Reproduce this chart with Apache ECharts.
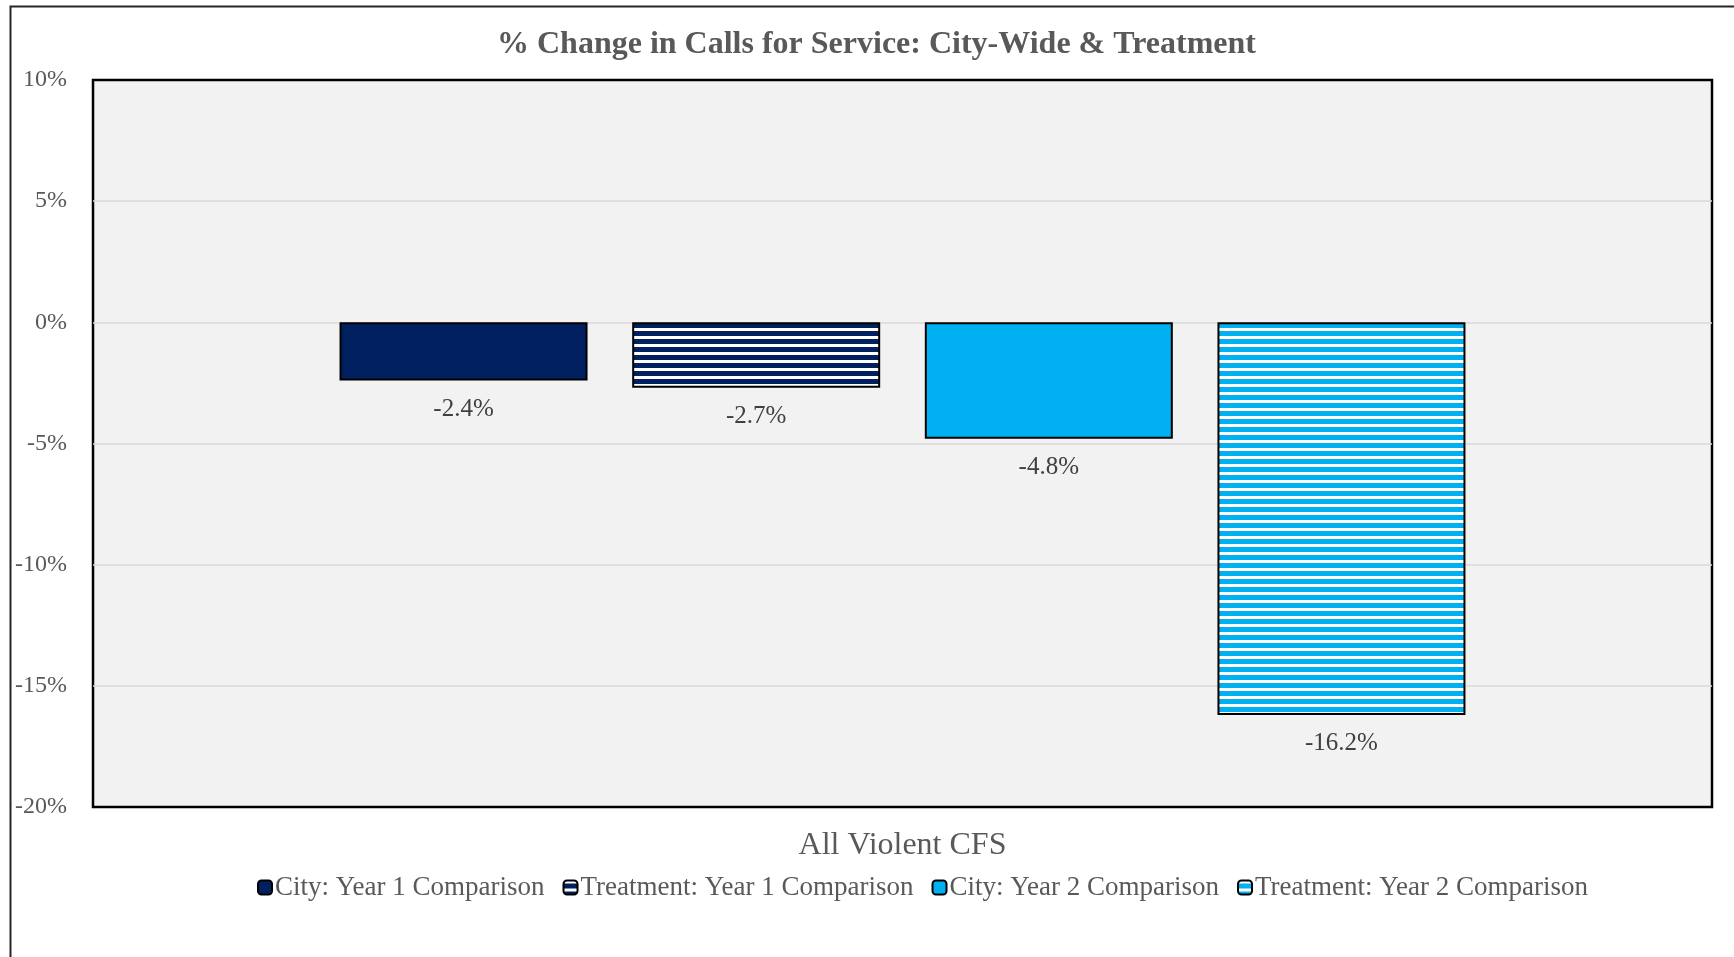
<!DOCTYPE html>
<html>
<head>
<meta charset="utf-8">
<title>% Change in Calls for Service</title>
<script src="https://cdn.jsdelivr.net/npm/echarts@6/dist/echarts.min.js"></script>
<style>
  html, body { margin: 0; padding: 0; background: #ffffff; }
  #chart { width: 1734px; height: 957px; }
</style>
</head>
<body>
<div id="chart"></div>
<script>
// Category, series names and values (percent change)
const categories = ['All Violent CFS'];
const seriesNames = [
  'City: Year 1 Comparison',
  'Treatment: Year 1 Comparison',
  'City: Year 2 Comparison',
  'Treatment: Year 2 Comparison'
];
const cityYear1 = [-2.4];
const treatmentYear1 = [-2.7];
const cityYear2 = [-4.8];
const treatmentYear2 = [-16.2];
const yTicks = { min: -20, max: 10, step: 5 };

const NAVY = '#002060';
const SKY = '#00B0F0';
const FONT = '"Liberation Serif", "Times New Roman", serif';

// Horizontal stripe fill: coloured band over white band
function stripes(color) {
  const c = document.createElement('canvas');
  c.width = 8; c.height = 8;
  const ctx = c.getContext('2d');
  ctx.fillStyle = '#ffffff';
  ctx.fillRect(0, 0, 8, 8);
  ctx.fillStyle = color;
  ctx.fillRect(0, 3, 8, 5);
  return { image: c, repeat: 'repeat' };
}

const fills = [NAVY, stripes(NAVY), SKY, stripes(SKY)];
const values = [cityYear1, treatmentYear1, cityYear2, treatmentYear2];

const chart = echarts.init(document.getElementById('chart'));

chart.setOption({
  animation: false,
  backgroundColor: '#ffffff',
  title: {
    text: '% Change in Calls for Service: City-Wide & Treatment',
    left: 492,
    top: 24,
    textStyle: { fontFamily: FONT, fontWeight: 'bold', fontSize: 32, color: '#595959' }
  },
  graphic: [{
    type: 'rect',
    left: 8, top: 4,
    shape: { width: 1800, height: 1000 },
    style: { fill: 'none', stroke: '#262626', lineWidth: 2 },
    silent: true, z: 100
  }],
  legend: {
    left: 252,
    top: 869,
    itemWidth: 14,
    itemHeight: 14,
    itemGap: 18,
    icon: 'roundRect',
    textStyle: { fontFamily: FONT, fontSize: 27, color: '#595959', padding: [0, 0, 0, -2] },
    itemStyle: { borderColor: '#000000', borderWidth: 2 },
    data: seriesNames
  },
  grid: {
    left: 93, right: 22, top: 80, bottom: 150,
    show: true,
    backgroundColor: '#f2f2f2',
    borderColor: '#000000',
    borderWidth: 2.5,
    z: 0
  },
  xAxis: {
    type: 'category',
    data: categories,
    axisLine: { show: false },
    axisTick: { show: false },
    axisLabel: { margin: 23, fontFamily: FONT, fontSize: 32, color: '#595959' }
  },
  yAxis: {
    type: 'value',
    min: yTicks.min,
    max: yTicks.max,
    interval: yTicks.step,
    axisLine: { show: false },
    axisTick: { show: false },
    axisLabel: {
      margin: 26,
      padding: [12, 0, 0, 0],
      formatter: '{value}%',
      fontFamily: FONT, fontSize: 24, color: '#595959'
    },
    splitLine: {
      showMinLine: false,
      showMaxLine: false,
      lineStyle: { color: '#d9d9d9', width: 1.5 }
    }
  },
  series: seriesNames.map((name, i) => ({
    name: name,
    type: 'bar',
    data: values[i],
    barWidth: 248,
    barGap: '18%',
    itemStyle: { color: fills[i], borderColor: '#000000', borderWidth: 2 },
    label: {
      show: true,
      position: 'bottom',
      distance: 16,
      formatter: p => p.value.toFixed(1) + '%',
      fontFamily: FONT, fontSize: 25, color: '#404040'
    }
  }))
});
</script>
</body>
</html>
